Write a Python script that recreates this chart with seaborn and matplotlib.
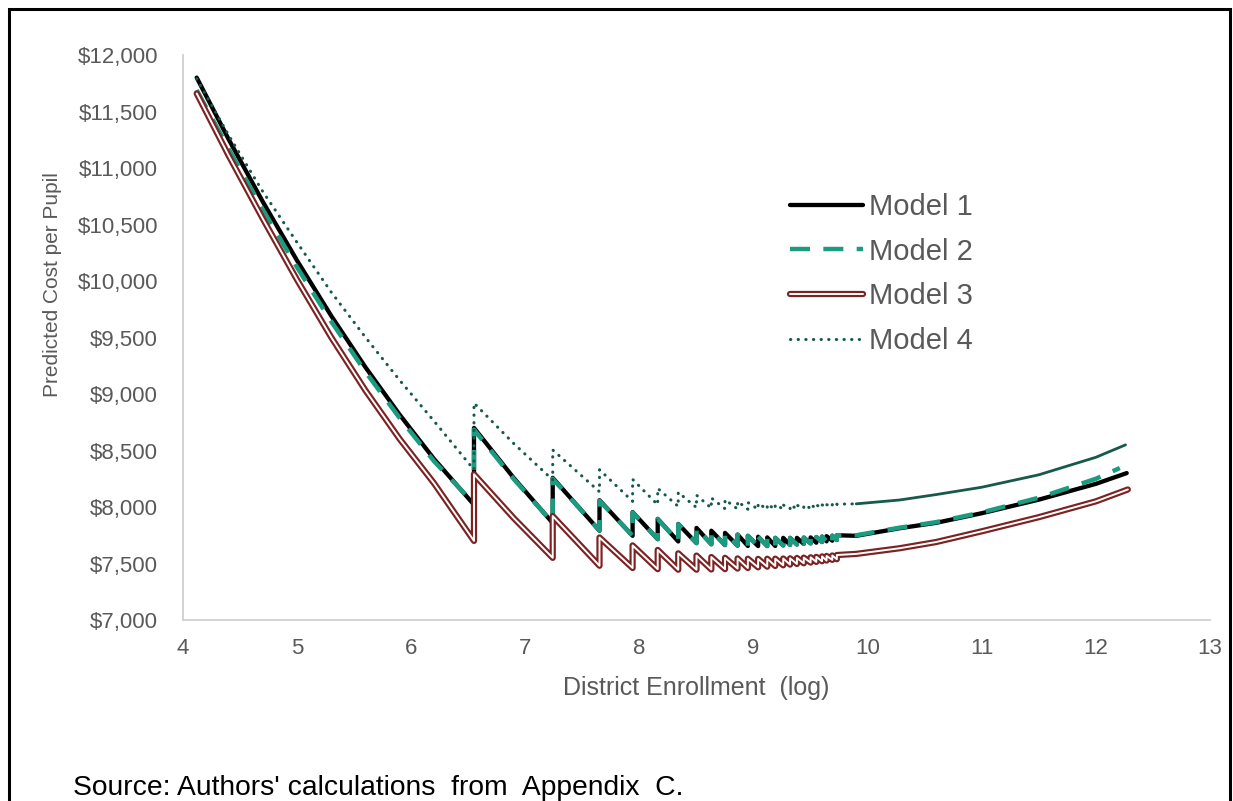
import matplotlib
matplotlib.use("Agg")
import matplotlib.pyplot as plt
import matplotlib.patheffects as pe
from matplotlib.patches import Rectangle
from matplotlib.ticker import FuncFormatter, MultipleLocator
import pandas as pd
import seaborn as sns

# ---------------- data ----------------
series_names = ["Model 1", "Model 2", "Model 3", "Model 4"]

head_x = [4.12, 4.40, 4.70, 5.00, 5.30, 5.60, 5.90, 6.20]
jump_x = [6.55, 7.24, 7.65, 7.94, 8.16, 8.34, 8.50, 8.63, 8.75, 8.86, 8.95, 9.04,
          9.12, 9.19, 9.26, 9.32, 9.38, 9.44, 9.50, 9.55, 9.60, 9.64, 9.69, 9.73]
mid1_x = 6.90

m1_head_y = [11800, 11254, 10700, 10180, 9690, 9235, 8815, 8425]
m1_trough = [8020, 7858, 7790, 7745, 7715, 7695, 7680, 7670, 7663, 7658, 7655, 7654,
             7654, 7655, 7660, 7664, 7668, 7673, 7678, 7684, 7690, 7696, 7702, 7708]
m1_peak = [8700, 8258, 8060, 7955, 7895, 7850, 7815, 7790, 7771, 7756, 7745, 7737,
           7731, 7727, 7727, 7727, 7727, 7729, 7731, 7734, 7738, 7742, 7746, 7750]
m1_mid1 = 8255
m1_tail_x = [9.90, 10.28, 10.60, 11.00, 11.50, 12.00, 12.27]
m1_tail_y = [7745, 7812, 7860, 7945, 8065, 8205, 8300]

m2_head_y = [11690, 11170, 10630, 10120, 9640, 9195, 8785, 8405]
m2_trough = [8030, 7860, 7792, 7746, 7716, 7696, 7681, 7671, 7664, 7659, 7656, 7655,
             7655, 7656, 7661, 7665, 7669, 7674, 7679, 7685, 7691, 7697, 7703, 7709]
m2_peak = [8685, 8250, 8055, 7952, 7893, 7848, 7813, 7789, 7770, 7755, 7744, 7736,
           7730, 7726, 7726, 7726, 7727, 7729, 7731, 7734, 7738, 7742, 7746, 7750]
m2_mid1 = 8245
m2_tail_x = [9.90, 10.28, 10.60, 11.00, 11.50, 12.00, 12.21]
m2_tail_y = [7750, 7817, 7866, 7952, 8082, 8250, 8345]

m3_head_y = [11660, 11110, 10550, 10010, 9500, 9030, 8600, 8210]
m3_trough = [7700, 7550, 7480, 7460, 7450, 7445, 7445, 7447, 7450, 7455, 7460, 7466,
             7472, 7478, 7484, 7490, 7496, 7502, 7508, 7514, 7520, 7526, 7532, 7538]
m3_peak = [8290, 7920, 7730, 7660, 7620, 7590, 7570, 7557, 7550, 7545, 7542, 7541,
           7542, 7543, 7544, 7546, 7549, 7552, 7555, 7559, 7563, 7567, 7571, 7575]
m3_mid1 = 7900
m3_tail_x = [9.90, 10.28, 10.60, 11.00, 11.50, 12.00, 12.28]
m3_tail_y = [7585, 7635, 7690, 7785, 7910, 8050, 8155]

m4_head_y = [11790, 11290, 10790, 10340, 9900, 9500, 9120, 8760]
m4_trough = [8330, 8240, 8135, 8050, 8020, 8005, 7995, 7990, 7985, 7982, 7980, 7980,
             7980, 7980, 7982, 7984, 7986, 7988, 7990, 7993, 7996, 7999, 8002, 8005]
m4_peak = [8920, 8505, 8330, 8245, 8165, 8130, 8105, 8080, 8065, 8050, 8040, 8032,
           8025, 8020, 8018, 8016, 8016, 8016, 8016, 8017, 8019, 8021, 8023, 8025]
m4_mid1 = 8560
m4_tail_x = [9.90, 10.28, 10.60, 11.00, 11.50, 12.00, 12.26]
m4_tail_y = [8028, 8062, 8110, 8175, 8285, 8440, 8550]

x_ticks = [4, 5, 6, 7, 8, 9, 10, 11, 12, 13]


def assemble(head_y, trough, peak, mid1, tail_x=None, tail_y=None):
    xs, ys = list(head_x), list(head_y)
    for i, jx in enumerate(jump_x):
        xs += [jx, jx]
        ys += [trough[i], peak[i]]
        if i == 0:
            xs.append(mid1_x)
            ys.append(mid1)
    if tail_x is not None:
        xs += list(tail_x)
        ys += list(tail_y)
    return pd.DataFrame({"x": xs, "y": ys})


df1 = assemble(m1_head_y, m1_trough, m1_peak, m1_mid1, m1_tail_x, m1_tail_y)
df2 = assemble(m2_head_y, m2_trough, m2_peak, m2_mid1, m2_tail_x, m2_tail_y)
df3 = assemble(m3_head_y, m3_trough, m3_peak, m3_mid1, m3_tail_x, m3_tail_y)
df4 = assemble(m4_head_y, m4_trough, m4_peak, m4_mid1, m4_tail_x[:1], m4_tail_y[:1])
df4t = pd.DataFrame({"x": m4_tail_x, "y": m4_tail_y})

# ---------------- style ----------------
sns.set_theme(style="white")
plt.rcParams["font.family"] = ["Liberation Sans", "DejaVu Sans"]

C1, C2, C3, C4 = "#000000", "#1b9b80", "#7b2222", "#17594a"
GREY = "#595959"

W, H = 1233, 801
fig = plt.figure(figsize=(W / 100, H / 100), dpi=100)
ax = fig.add_axes([183 / W, 1 - 620 / H, (1210 - 183) / W, (620 - 55) / H])

sns.lineplot(data=df1, x="x", y="y", sort=False, estimator=None, color=C1,
             linewidth=3.1, label=series_names[0], ax=ax)
sns.lineplot(data=df2, x="x", y="y", sort=False, estimator=None, color=C2,
             linewidth=3.2, linestyle=(0, (4.5, 3.0)), label=series_names[1], ax=ax)
sns.lineplot(data=df3, x="x", y="y", sort=False, estimator=None, color="white",
             linewidth=1.4, label=series_names[2], ax=ax,
             path_effects=[pe.Stroke(linewidth=4.5, foreground=C3), pe.Normal()])
sns.lineplot(data=df4, x="x", y="y", sort=False, estimator=None, color=C4,
             linewidth=2.2, linestyle=(0, (0.1, 2.4)), dash_capstyle="round",
             label=series_names[3], ax=ax)
sns.lineplot(data=df4t, x="x", y="y", sort=False, estimator=None, color=C4,
             linewidth=2.0, legend=False, ax=ax)

ax.set_xlim(4, 13)
ax.set_ylim(7000, 12000)
ax.set_xticks(x_ticks)
ax.yaxis.set_major_locator(MultipleLocator(500))
ax.yaxis.set_major_formatter(FuncFormatter(lambda v, p: f"${v:,.0f}"))
ax.tick_params(axis="both", length=0, labelsize=16, labelcolor=GREY)
ax.tick_params(axis="x", pad=13)
ax.tick_params(axis="y", pad=18)
for s in ["top", "right"]:
    ax.spines[s].set_visible(False)
for s in ["left", "bottom"]:
    ax.spines[s].set_color("#d0d0d0")
    ax.spines[s].set_linewidth(1.3)
ax.grid(False)

ax.set_xlabel("District Enrollment  (log)", fontsize=18, color=GREY, labelpad=12)
ax.set_ylabel("Predicted Cost per Pupil", fontsize=15, color=GREY, va="center")
ax.yaxis.set_label_coords((52 - 183) / (1210 - 183), (620 - 285) / (620 - 55))

handles, labels = ax.get_legend_handles_labels()
ax.legend(handles, labels, loc="upper left",
          bbox_to_anchor=(790 / W, 1 - 193 / H), bbox_transform=fig.transFigure,
          frameon=False, fontsize=21, labelcolor=GREY, handlelength=2.5,
          handletextpad=0.2, labelspacing=0.57, borderpad=0, borderaxespad=0)

fig.text(73 / W, 1 - 795 / H, "Source: Authors' calculations  from  Appendix  C.",
         fontsize=20.3, color="black", ha="left", va="baseline")

fig.patches.append(Rectangle((8.5 / W, -0.05), (1229.5 - 8.5) / W, 1 - 8.5 / H + 0.05,
                             transform=fig.transFigure, fill=False,
                             edgecolor="black", linewidth=2.2, clip_on=False))

fig.savefig("out.png", dpi=100)
